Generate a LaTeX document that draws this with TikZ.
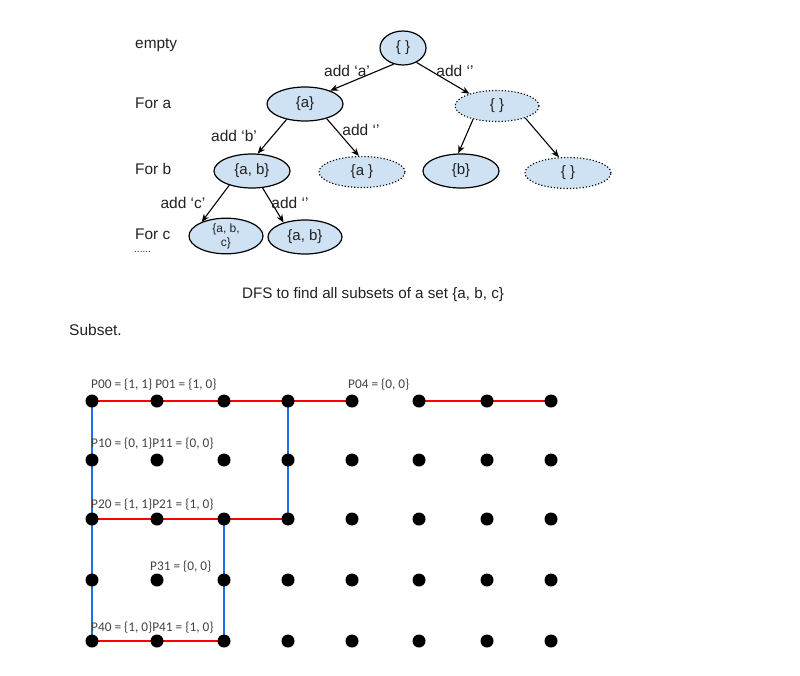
\documentclass[tikz,border=0pt]{standalone}
\usepackage{fontspec}
\setmainfont{Liberation Sans}
\newfontfamily\calfont{Carlito}
\usetikzlibrary{shapes.geometric,arrows.meta}
\definecolor{nodefill}{HTML}{CFE2F3}
\definecolor{txt}{HTML}{222222}
\definecolor{gridred}{HTML}{FF0000}
\definecolor{gridblue}{HTML}{1C6FE8}
\begin{document}
\begin{tikzpicture}[x=1pt,y=-1pt,
  setnode/.style={ellipse,draw=black,line width=1.2pt,fill=nodefill,inner sep=0pt,
    minimum width=76pt,minimum height=34pt,font=\fontsize{15}{17}\selectfont,text=txt},
  dotnode/.style={setnode,dotted,line width=1.1pt,minimum height=31pt},
  edge/.style={line width=1.1pt,-{Stealth[length=8pt,width=6.5pt]}},
  elabel/.style={font=\fontsize{15.5}{17}\selectfont,text=txt,inner sep=0pt},
  rowlabel/.style={font=\fontsize{15.4}{17}\selectfont,text=txt,anchor=west,inner sep=0pt},
  plabel/.style={font=\calfont\fontsize{13.3}{15}\selectfont,text=txt!85!white,anchor=west,inner sep=0pt},
  gdot/.style={circle,fill=black,inner sep=0pt,minimum size=13pt},
  redl/.style={gridred,line width=2pt},
  bluel/.style={gridblue,line width=2pt}]
\useasboundingbox (0,0) rectangle (800,675);
\fill[white] (0,0) rectangle (800,675);

% row labels
\node[rowlabel] (lempty) at (135,45) {empty};
\node[rowlabel] (lfora) at (135,103) {For a};
\node[rowlabel] (lforb) at (135,169) {For b};
\node[rowlabel] (lforc) at (135,234) {For c};
\node[rowlabel,font=\fontsize{10}{10}\selectfont] (ldots) at (134,252) {......};

% tree nodes
\node[setnode,minimum width=46pt] (root) at (403,48) {\{ \}};
\node[setnode] (a) at (305,104) {\{a\}};
\node[dotnode,minimum width=84pt] (rt) at (497,106) {\{ \}};
\node[setnode] (ab) at (252,171) {\{a, b\}};
\node[dotnode,minimum width=86pt] (a2) at (362,172) {\{a \}};
\node[setnode] (b) at (461,171) {\{b\}};
\node[dotnode,minimum width=86pt] (e2) at (568,173) {\{ \}};
\node[setnode,minimum width=74pt,font=\fontsize{12}{14}\selectfont,align=center] (abc) at (226,236) {\{a, b,\\c\}};
\node[setnode,minimum width=74pt] (ab2) at (305,237) {\{a, b\}};

% edges
\draw[edge] (root.240) -- (a.28);
\draw[edge] (root.313) -- (rt.156);
\draw[edge] (a.220) -- (ab.72);
\draw[edge] (a.326) -- (a2.101);
\draw[edge] (rt.209) -- (b.99);
\draw[edge] (rt.337) -- (e2.120);
\draw[edge] (ab.212) -- (abc.150);
\draw[edge] (ab.302) -- (ab2.146);

% edge labels
\node[elabel] (la) at (347,71) {add ‘a’};
\node[elabel] (lr) at (455,71) {add ‘’};
\node[elabel] (lb) at (234,136) {add ‘b’};
\node[elabel] (la2) at (361,130) {add ‘’};
\node[elabel] (lc) at (183,203) {add ‘c’};
\node[elabel] (lab2) at (290,203) {add ‘’};

% captions
\node[elabel,font=\fontsize{15.2}{17}\selectfont] (cap) at (373,295) {DFS to find all subsets of a set \{a, b, c\}};
\node[rowlabel,font=\fontsize{15.5}{17}\selectfont] (subset) at (69,330) {Subset.};

% grid coordinates
\foreach \r/\y in {0/401,1/460,2/519,3/580,4/641}{
  \foreach \c/\x in {0/92,1/157,2/224,3/288,4/352,5/419,6/487,7/551}{
    \coordinate (g-\r-\c) at (\x,\y);
  }
}
% paths
\draw[redl] (g-0-0) -- (g-0-4);
\draw[redl] (g-0-5) -- (g-0-7);
\draw[redl] (g-2-0) -- (g-2-3);
\draw[redl] (g-4-0) -- (g-4-2);
\draw[bluel] (g-0-0) -- (g-4-0);
\draw[bluel] (g-0-3) -- (g-2-3);
\draw[bluel] (g-2-2) -- (g-4-2);
% dots
\foreach \r in {0,...,4}{
  \foreach \c in {0,...,7}{
    \node[gdot] (d-\r-\c) at (g-\r-\c) {};
  }
}
% point labels
\node[plabel] (p00) at (91,385) {P00 = \{1, 1\} P01 = \{1, 0\}};
\node[plabel] (p04) at (348,385) {P04 = \{0, 0\}};
\node[plabel] (p10) at (91,444) {P10 = \{0, 1\}P11 = \{0, 0\}};
\node[plabel] (p20) at (91,505) {P20 = \{1, 1\}P21 = \{1, 0\}};
\node[plabel] (p31) at (150,567) {P31 = \{0, 0\}};
\node[plabel] (p40) at (91,628) {P40 = \{1, 0\}P41 = \{1, 0\}};
\end{tikzpicture}
\end{document}
